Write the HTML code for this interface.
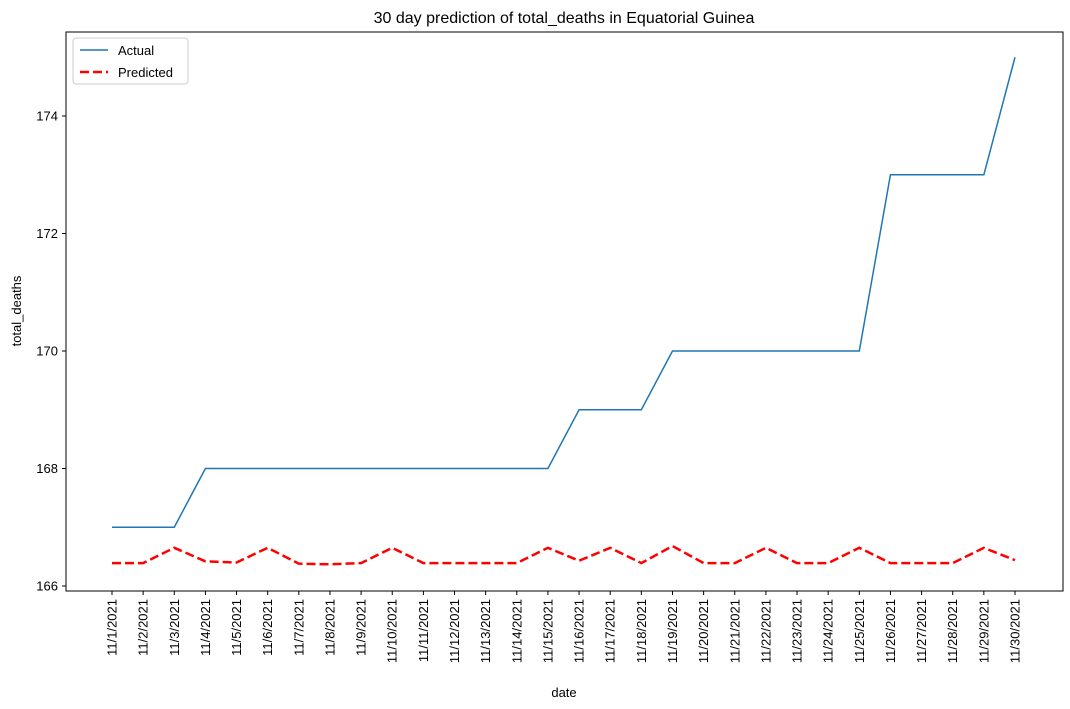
<!DOCTYPE html>
<html><head><meta charset="utf-8"><style>
html,body{margin:0;padding:0;background:#fff;}
svg{display:block;font-family:"Liberation Sans","DejaVu Sans",sans-serif;}
</style></head><body>
<svg id="chart" width="1070" height="709" viewBox="0 0 1070 709" xmlns="http://www.w3.org/2000/svg">
<rect width="1070" height="709" fill="#fff"/>
<text x="564" y="23" text-anchor="middle" font-size="16">30 day prediction of total_deaths in Equatorial Guinea</text>
<g id="grid"></g>
<rect x="66" y="32" width="997" height="559" fill="none" stroke="#000" stroke-width="1"/>
<text x="564" y="697" text-anchor="middle" font-size="13">date</text>
<text transform="translate(21,311) rotate(-90)" text-anchor="middle" font-size="13">total_deaths</text>
<g>
<rect x="73" y="38" width="115" height="46" rx="3" fill="#fff" stroke="#ccc"/>
<line x1="80" y1="50" x2="108" y2="50" stroke="#1f77b4" stroke-width="1.5"/>
<text x="118" y="55" font-size="13">Actual</text>
<line x1="80" y1="72" x2="108" y2="72" stroke="red" stroke-width="2.5" stroke-dasharray="9,4"/>
<text x="118" y="77" font-size="13">Predicted</text>
</g>
</svg>
<script>
const categories = Array.from({length:30},(_,i)=>"11/"+(i+1)+"/2021");
const actualValues = [167,167,167,168,168,168,168,168,168,168,168,168,168,168,168,169,169,169,170,170,170,170,170,170,170,173,173,173,173,175];
const predictedValues = [166.39,166.39,166.65,166.42,166.40,166.65,166.38,166.37,166.39,166.65,166.39,166.39,166.39,166.39,166.65,166.43,166.65,166.39,166.68,166.39,166.39,166.65,166.39,166.39,166.65,166.39,166.39,166.39,166.65,166.44];
const yTicks = [166,168,170,172,174];

const svg = document.getElementById('chart');
const NS = "http://www.w3.org/2000/svg";
const x = i => 112 + i*(1015-112)/29;
const y = v => 586 - (v-166)*58.75;
function mk(tag, attrs){const e=document.createElementNS(NS,tag);for(const k in attrs)e.setAttribute(k,attrs[k]);svg.appendChild(e);return e;}

yTicks.forEach(t=>{
  const l=mk('line',{x1:62,x2:66,y1:y(t),y2:y(t),stroke:'#000'});
  
  
  const tx=mk('text',{x:58,y:y(t)+4.5,'text-anchor':'end','font-size':'13'});
  tx.textContent=t;
  
  
});
categories.forEach((c,i)=>{
  const l=mk('line',{x1:x(i),x2:x(i),y1:591,y2:595,stroke:'#000'});
  
  
  const tx=mk('text',{transform:`translate(${x(i)+4.5},599) rotate(-90)`,'text-anchor':'end','font-size':'13'});
  tx.textContent=c;
  
  
});
const a=mk('polyline',{points:actualValues.map((v,i)=>x(i)+','+y(v)).join(' '),fill:'none',stroke:'#1f77b4','stroke-width':1.5});


const p=mk('polyline',{points:predictedValues.map((v,i)=>x(i)+','+y(v)).join(' '),fill:'none',stroke:'red','stroke-width':2.5,'stroke-dasharray':'9,4'});


</script>
</body></html>
